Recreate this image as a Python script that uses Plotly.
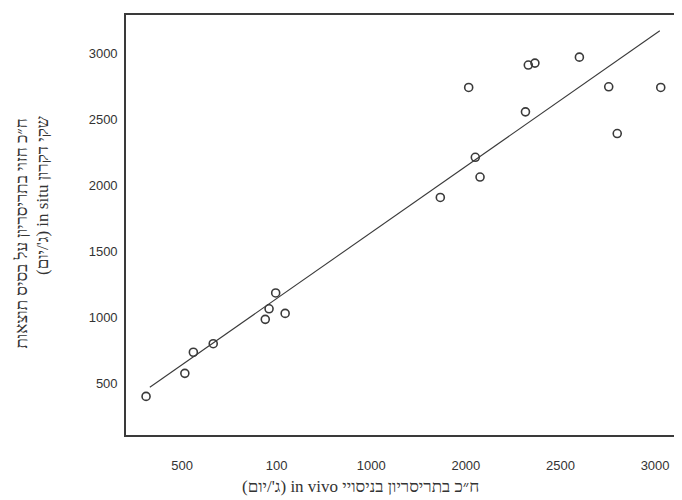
import plotly.graph_objects as go

# Observed (in vivo) vs predicted (in situ) values, g/day
x_vals = [310, 515, 560, 665, 940, 960, 995, 1045, 1865, 2015, 2050, 2075,
          2315, 2330, 2365, 2600, 2755, 2800, 3030]
y_vals = [400, 575, 735, 800, 985, 1065, 1185, 1030, 1910, 2745, 2215, 2065,
          2560, 2915, 2930, 2975, 2750, 2395, 2745]

# Fitted line end points
fit_x = [330, 3025]
fit_y = [470, 3175]

x_tickvals = [500, 1000, 1500, 2000, 2500, 3000]
x_ticktext = ["500", "100", "1000", "2000", "2500", "3000"]
y_tickvals = [500, 1000, 1500, 2000, 2500, 3000]
y_ticktext = ["500", "1000", "1500", "2000", "2500", "3000"]

x_title = "\u202Bח״כ בתריסריון בניסויי in vivo (ג'/יום)\u202C"
y_title_1 = "\u202Bח״כ חזוי בתריסריון על בסיס תוצאות\u202C"
y_title_2 = "\u202Bשקי דקרון in situ (ג'/יום)\u202C"

ink = "#3a3a3a"

fig = go.Figure()
fig.add_trace(go.Scatter(x=fit_x, y=fit_y, mode="lines",
                         line=dict(color=ink, width=1.1), showlegend=False))
fig.add_trace(go.Scatter(x=x_vals, y=y_vals, mode="markers",
                         marker=dict(symbol="circle-open", size=8,
                                     color=ink, line=dict(width=1.6, color=ink)),
                         showlegend=False))

OFF = 8  # page body margin
W, H = 682, 500
# target plot area in screen pixels: x 126..674, y 13..435
L = 126 - OFF
T = 13 - OFF
R = W - (674 - OFF)
B = H - (435 - OFF)
pw, ph = W - L - R, H - T - B

def px(xs):
    return (xs - OFF - L) / pw

def py(ys):
    return (H - B - (ys - OFF)) / ph

serif = "Liberation Serif, DejaVu Serif, serif"

fig.update_layout(
    width=W, height=H,
    margin=dict(l=L, r=R, t=T, b=B),
    paper_bgcolor="white", plot_bgcolor="white",
    font=dict(family="Liberation Sans, Arial, sans-serif", color="#333333", size=13),
    xaxis=dict(range=[204, 3100], tickvals=x_tickvals, ticktext=x_ticktext,
               showgrid=False, zeroline=False, ticks="",
               showline=True, linecolor=ink, linewidth=1.6, mirror=True,
               ticklabelstandoff=18, tickfont=dict(size=13)),
    yaxis=dict(range=[107, 3295], tickvals=y_tickvals, ticktext=y_ticktext,
               showgrid=False, zeroline=False, ticks="",
               showline=True, linecolor=ink, linewidth=1.6, mirror=True,
               ticklabelstandoff=4, tickfont=dict(size=13)),
    annotations=[
        dict(text=x_title, xref="paper", yref="paper", x=px(360), y=py(487),
             xanchor="center", yanchor="middle", showarrow=False,
             font=dict(family=serif, size=17, color="#333333")),
        dict(text=y_title_1, xref="paper", yref="paper", x=px(22), y=py(115),
             xanchor="center", yanchor="top", textangle=-90, showarrow=False,
             font=dict(family=serif, size=17, color="#333333")),
        dict(text=y_title_2, xref="paper", yref="paper", x=px(42), y=py(113),
             xanchor="center", yanchor="top", textangle=-90, showarrow=False,
             font=dict(family=serif, size=17, color="#333333")),
    ],
)

fig.write_html("out.html")
